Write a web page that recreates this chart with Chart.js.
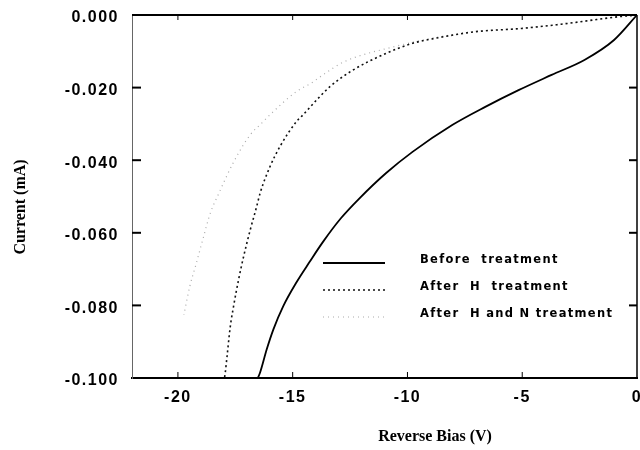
<!DOCTYPE html>
<html>
<head>
<meta charset="utf-8">
<script src="https://cdn.jsdelivr.net/npm/chart.js@4"></script>
<style>
  html, body { margin: 0; padding: 0; background: #fff; }
  canvas { display: block; }
</style>
</head>
<body>
<canvas id="c" width="640" height="450"></canvas>
<script>
// ---- data (Reverse bias in V, current in mA) ----
const seriesLabels = ['Before  treatment', 'After  H  treatment', 'After  H and N treatment'];

const biasBefore = [0, -1.0, -2.29, -3.72, -5.16, -6.61, -8.05, -9.78, -10.94, -12.09, -12.9, -13.68, -14.26, -14.84, -15.41, -15.84, -16.13, -16.42, -16.52];
const currBefore = [0, -0.0069, -0.0124, -0.0165, -0.0207, -0.0253, -0.0303, -0.0377, -0.0436, -0.0505, -0.056, -0.0625, -0.068, -0.0737, -0.0802, -0.0866, -0.0921, -0.0985, -0.1];

const biasH = [0, -0.84, -3.0, -5.02, -7.04, -8.77, -9.78, -10.94, -12.38, -13.39, -13.82, -14.55, -14.84, -15.56, -15.99, -16.42, -16.57, -16.85, -17.14, -17.36, -17.58, -17.72, -17.86, -17.94, -17.97];
const currH = [0, -0.0005, -0.0023, -0.0037, -0.0046, -0.0064, -0.0078, -0.0106, -0.0152, -0.0198, -0.0225, -0.0275, -0.0294, -0.0363, -0.0418, -0.0491, -0.0528, -0.0592, -0.0666, -0.073, -0.0804, -0.0859, -0.0941, -0.0987, -0.1];

const biasHN = [0, -0.84, -3.0, -5.02, -7.04, -8.77, -10.43, -12.8, -13.68, -14.2, -14.84, -15.99, -16.35, -16.85, -17.58, -18.23, -18.59, -18.9, -19.23, -19.48, -19.74];
const currHN = [0, -0.0005, -0.0023, -0.0037, -0.0046, -0.0062, -0.0085, -0.013, -0.0165, -0.0188, -0.0211, -0.0275, -0.0298, -0.033, -0.0406, -0.0493, -0.0546, -0.0615, -0.0691, -0.0747, -0.0826];

const xTicks = [-20, -15, -10, -5, 0];
const xTickLabels = ['-20', '-15', '-10', '-5', '0'];
const yTicks = [-0.1, -0.08, -0.06, -0.04, -0.02, 0];
const yTickLabels = ['-0.100', '-0.080', '-0.060', '-0.040', '-0.020', '0.000'];

const xTitle = 'Reverse Bias (V)';
const yTitle = 'Current (mA)';

const pts = (xs, ys) => xs.map((v, i) => ({ x: v, y: ys[i] }));

// ---- decorations: frame, inner ticks, axis titles, legend ----
const decor = {
  id: 'decor',
  beforeDraw(chart) { chart.ctx.letterSpacing = '1.5px'; },
  afterDraw(chart) {
    const { ctx, chartArea: a, scales: { x, y } } = chart;
    ctx.save();
    ctx.letterSpacing = '0px';
    ctx.strokeStyle = '#000';
    ctx.setLineDash([]);
    const line = (x1, y1, x2, y2) => { ctx.beginPath(); ctx.moveTo(x1, y1); ctx.lineTo(x2, y2); ctx.stroke(); };
    // top and right frame
    ctx.lineWidth = 2;
    line(a.left, a.top, a.right, a.top);
    ctx.lineWidth = 1.5;
    line(a.right, a.top, a.right, a.bottom);
    // inner ticks on y
    ctx.lineWidth = 2;
    y.ticks.forEach(t => {
      if (t.value === 0 || t.value === -0.1) return;
      const py = y.getPixelForValue(t.value);
      line(a.left, py, a.left + 9, py);
      line(a.right - 8, py, a.right, py);
    });
    // inner ticks on x
    ctx.lineWidth = 1;
    x.ticks.forEach(t => {
      if (t.value === 0) return;
      const px = x.getPixelForValue(t.value);
      line(px, a.bottom, px, a.bottom - 6);
      line(px, a.top, px, a.top + 5);
    });
    // axis titles
    ctx.fillStyle = '#000';
    ctx.font = 'bold 16px "Liberation Serif", "DejaVu Serif", serif';
    ctx.textAlign = 'center';
    ctx.textBaseline = 'middle';
    ctx.fillText(xTitle, 435, 437);
    ctx.save();
    ctx.translate(21, 207);
    ctx.rotate(-Math.PI / 2);
    ctx.fillText(yTitle, 0, 0);
    ctx.restore();
    // legend
    const rows = [263, 290, 317];
    ctx.font = 'bold 11.5px "DejaVu Sans", sans-serif';
    ctx.textAlign = 'left';
    ctx.letterSpacing = '1.3px';
    chart.data.datasets.forEach((ds, i) => {
      const ly = rows[i];
      ctx.strokeStyle = ds.borderColor;
      ctx.lineWidth = ds.borderWidth;
      ctx.setLineDash(ds.borderDash || []);
      line(323, ly, 385, ly);
      ctx.fillStyle = '#000';
      ctx.fillText(ds.label, 420, ly - 3);
    });
    ctx.restore();
  }
};

new Chart(document.getElementById('c'), {
  type: 'line',
  data: {
    datasets: [
      { label: seriesLabels[0], data: pts(biasBefore, currBefore), borderColor: '#000', borderWidth: 1.8, borderDash: [], pointRadius: 0, fill: false, cubicInterpolationMode: 'monotone' },
      { label: seriesLabels[1], data: pts(biasH, currH), borderColor: '#111', borderWidth: 1.6, borderDash: [2, 3], pointRadius: 0, fill: false, cubicInterpolationMode: 'monotone' },
      { label: seriesLabels[2], data: pts(biasHN, currHN), borderColor: '#aaa', borderWidth: 1.2, borderDash: [1, 4], pointRadius: 0, fill: false, cubicInterpolationMode: 'monotone' }
    ]
  },
  options: {
    responsive: false,
    animation: false,
    devicePixelRatio: 1,
    layout: { padding: { top: 15, right: 3, left: 0, bottom: 0 } },
    plugins: { legend: { display: false }, tooltip: { enabled: false } },
    scales: {
      x: {
        type: 'linear', min: -22, max: 0,
        afterBuildTicks: s => { s.ticks = xTicks.map(v => ({ value: v })); },
        afterFit: s => { s.height = 72; s.paddingLeft = 0; s.paddingRight = 0; },
        grid: { display: false, drawTicks: false },
        border: { display: true, color: '#000', width: 2 },
        ticks: {
          color: '#000', padding: 10, maxRotation: 0, autoSkip: false,
          font: { family: '"Liberation Sans", Arial, sans-serif', size: 16, weight: 'bold' },
          callback: (v, i) => xTickLabels[i]
        }
      },
      y: {
        type: 'linear', min: -0.1, max: 0,
        afterBuildTicks: s => { s.ticks = yTicks.map(v => ({ value: v })); },
        afterFit: s => { s.width = 132; s.paddingTop = 0; s.paddingBottom = 0; },
        grid: { display: false, drawTicks: false },
        border: { display: true, color: '#666', width: 1, dash: [3, 2] },
        ticks: {
          color: '#000', padding: 13, autoSkip: false, labelOffset: 3,
          font: { family: '"Liberation Sans", Arial, sans-serif', size: 16, weight: 'bold' },
          callback: (v, i) => yTickLabels[i]
        }
      }
    }
  },
  plugins: [decor]
});
</script>
</body>
</html>
